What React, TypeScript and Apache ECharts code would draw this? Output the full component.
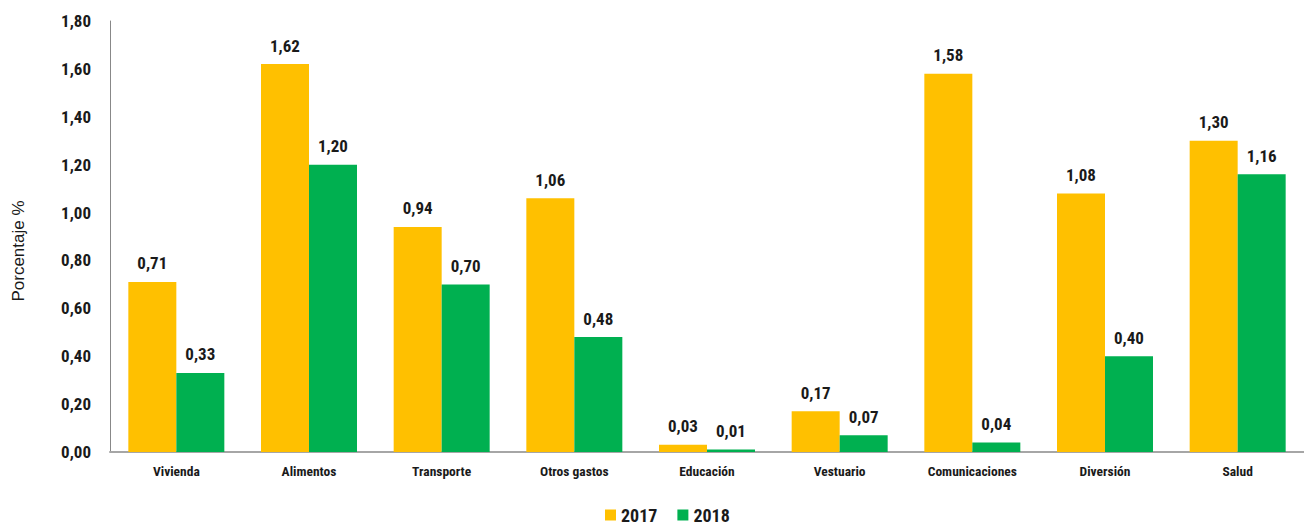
import React, { useEffect, useRef } from "react";
import * as echarts from "echarts";

const categories = ["Vivienda", "Alimentos", "Transporte", "Otros gastos", "Educación", "Vestuario", "Comunicaciones", "Diversión", "Salud"];
const values2017 = [0.71, 1.62, 0.94, 1.06, 0.03, 0.17, 1.58, 1.08, 1.3];
const values2018 = [0.33, 1.2, 0.7, 0.48, 0.01, 0.07, 0.04, 0.4, 1.16];
const yAxisTitle = "Porcentaje %";

const FONT = "'Liberation Sans Narrow', 'Roboto Condensed', 'Liberation Sans', sans-serif";
const fmt = (v: number) => v.toFixed(2).replace(".", ",");

export default function App() {
  const ref = useRef<HTMLDivElement>(null);
  useEffect(() => {
    if (!ref.current) return;
    const chart = echarts.init(ref.current, undefined, { renderer: "svg" });
    const label = {
      show: true,
      position: "top" as const,
      distance: 10,
      formatter: (p: any) => fmt(p.value),
      fontFamily: FONT,
      fontSize: 17,
      fontWeight: "bold" as const,
      color: "#1a1a1a",
    };
    chart.setOption({
      animation: false,
      textStyle: { fontFamily: FONT },
      grid: { left: 110, right: 0, top: 21, bottom: 75, containLabel: false },
      graphic: [
        {
          type: "text",
          x: 18,
          y: 251,
          rotation: Math.PI / 2,
          style: {
            text: yAxisTitle,
            fontFamily: "'Liberation Sans', Arial, sans-serif",
            fontSize: 17,
            fill: "#1a1a1a",
            align: "center",
            verticalAlign: "middle",
          },
        },
      ],
      legend: {
        bottom: -2,
        left: 600,
        itemWidth: 11,
        itemHeight: 11,
        itemGap: 20,
        icon: "rect",
        textStyle: { fontFamily: FONT, fontSize: 18, fontWeight: "bold", color: "#1a1a1a" },
        data: ["2017", "2018"],
      },
      xAxis: {
        type: "category",
        data: categories,
        axisLine: { lineStyle: { color: "#a6a6a6", width: 2 } },
        axisTick: { show: false },
        axisLabel: { interval: 0, fontFamily: FONT, fontSize: 13.5, fontWeight: "bold", color: "#1a1a1a", margin: 12 },
      },
      yAxis: {
        type: "value",
        min: 0,
        max: 1.8,
        interval: 0.2,
        axisLine: { show: true, lineStyle: { color: "#888888", width: 1 } },
        axisTick: { show: false },
        splitLine: { show: false },
        axisLabel: {
          formatter: (v: number) => fmt(v),
          fontFamily: FONT,
          fontSize: 17,
          fontWeight: "bold",
          color: "#1a1a1a",
          margin: 19,
        },
      },
      series: [
        { name: "2017", type: "bar", data: values2017, barWidth: 48, barGap: "0%", itemStyle: { color: "#FFC000" }, label },
        { name: "2018", type: "bar", data: values2018, barWidth: 48, barGap: "0%", itemStyle: { color: "#00B050" }, label },
      ],
    });
    return () => chart.dispose();
  }, []);
  return <div ref={ref} style={{ width: 1304, height: 527, position: "absolute", left: 0, top: 0 }} />;
}
